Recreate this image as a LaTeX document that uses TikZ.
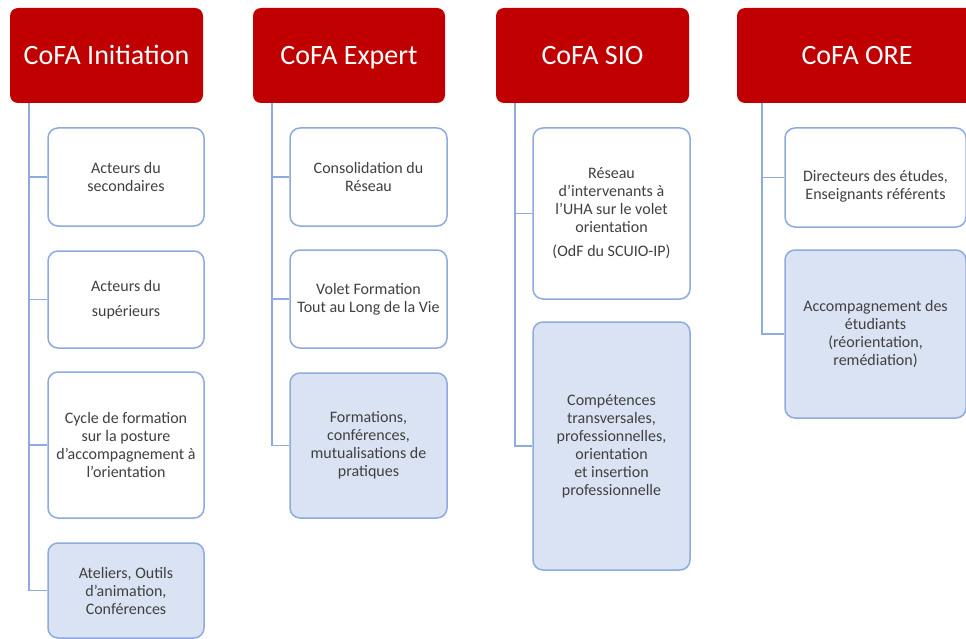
\documentclass[tikz,border=0pt]{standalone}
\usepackage{fontspec}
\setmainfont{Carlito}
\definecolor{hdr}{HTML}{C00000}
\definecolor{bd}{HTML}{8FAADC}
\definecolor{fl}{HTML}{DAE3F3}
\definecolor{tx}{HTML}{404040}
\begin{document}
\begin{tikzpicture}[x=1pt,y=-1pt,
  header/.style={fill=hdr, draw=none, rounded corners=8pt, text=white, inner sep=0pt,
    minimum height=95pt, text height=24pt, text depth=6pt, font=\fontsize{28}{34}\selectfont},
  item/.style={draw=bd, line width=1.5pt, rounded corners=10pt, fill=white, text=tx,
    align=center, inner sep=2pt, font=\fontsize{16}{18}\selectfont},
  itemf/.style={item, fill=fl},
  txt/.style={text=tx, align=center, inner sep=0pt, font=\fontsize{16}{18}\selectfont},
  conn/.style={draw=bd, line width=1.5pt}]
\clip (0,0) rectangle (966,639);
\fill[white] (0,0) rectangle (966,639);

% column 1
\node[header, minimum width=193pt] (h1) at (106.5,55.5) {CoFA Initiation};
\node[item, minimum width=156pt, minimum height=98pt] (b11) at (126,177) {Acteurs du\\secondaires};
\node[item, minimum width=156pt, minimum height=97pt] (b12) at (126,299.5) {Acteurs du\\[7pt]supérieurs};
\node[item, minimum width=156pt, minimum height=146pt] (b13) at (126,445) {Cycle de formation\\sur la posture\\d'accompagnement à\\l'orientation};
\node[itemf, minimum width=156pt, minimum height=95pt] (b14) at (126,590.5) {Ateliers, Outils\\d'animation,\\Conférences};
\coordinate (t1) at (29,103);
\draw[conn] (t1) |- (b14.west);
\foreach \b in {b11,b12,b13} \draw[conn] (\b.west) -- (\b.west -| t1);

% column 2
\node[header, minimum width=192pt] (h2) at (349,55.5) {CoFA Expert};
\node[item, minimum width=157pt, minimum height=98pt] (b21) at (368.5,177) {Consolidation du\\Réseau};
\node[item, minimum width=157pt, minimum height=98pt] (b22) at (368.5,299) {Volet Formation\\Tout au Long de la Vie};
\node[itemf, minimum width=157pt, minimum height=145pt] (b23) at (368.5,445.5) {Formations,\\conférences,\\mutualisations de\\pratiques};
\coordinate (t2) at (272,103);
\draw[conn] (t2) |- (b23.west);
\foreach \b in {b21,b22} \draw[conn] (\b.west) -- (\b.west -| t2);

% column 3
\node[header, minimum width=193pt] (h3) at (592.5,55.5) {CoFA SIO};
\node[item, minimum width=157pt, minimum height=171pt] (b31) at (611.5,213.5) {Réseau\\d'intervenants à\\l'UHA sur le volet\\orientation\\[6pt](OdF du SCUIO-IP)};
\node[itemf, minimum width=157pt, minimum height=248pt] (b32) at (611.5,446) {Compétences\\transversales,\\professionnelles,\\orientation\\et insertion\\professionnelle};
\coordinate (t3) at (515,103);
\draw[conn] (t3) |- (b32.west);
\draw[conn] (b31.west) -- (b31.west -| t3);

% column 4
\node[header, minimum width=240pt] (h4) at (857,55.5) {CoFA ORE};
\node[item, minimum width=181pt, minimum height=99pt] (b41) at (875.5,177.5) {};
\node[txt] (x41) at ([yshift=-9pt]b41.center) {Directeurs des études,\\Enseignants référents};
\node[itemf, minimum width=181pt, minimum height=168pt] (b42) at (875.5,334) {Accompagnement des\\étudiants\\(réorientation,\\remédiation)};
\coordinate (t4) at (762,103);
\draw[conn] (t4) |- (b42.west);
\draw[conn] (b41.west) -- (b41.west -| t4);
\end{tikzpicture}
\end{document}
